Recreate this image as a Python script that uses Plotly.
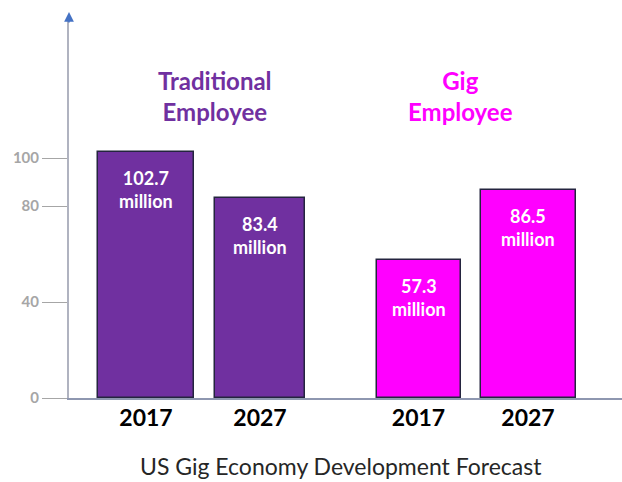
import plotly.graph_objects as go

# ---- data -------------------------------------------------------------
groups = ["Traditional Employee", "Traditional Employee", "Gig Employee", "Gig Employee"]
years = ["2017", "2027", "2017", "2027"]
employees_millions = [102.7, 83.4, 57.3, 86.5]

group_titles = ["Traditional<br>Employee", "Gig<br>Employee"]
y_tick_values = [0, 40, 80, 100]
y_tick_labels = ["0", "40", "80", "100"]
caption = "US Gig Economy Development Forecast"

# ---- layout constants ---------------------------------------------------
W, H = 622, 482
M_L, M_R, M_T, M_B = 69, 0, 20, 84
plot_w = W - M_L - M_R
plot_h = H - M_T - M_B
px_per_unit = 2.4
y_max = plot_h / px_per_unit

bar_centers = [77, 191, 349.5, 459]
bar_widths = [96, 90, 84, 95]
title_centers = [146, 391]

PURPLE = "#7030A0"
MAGENTA = "#FF00FF"
colors = {"Traditional Employee": PURPLE, "Gig Employee": MAGENTA}
FONT = "Lato"

fig = go.Figure()
fig.add_trace(go.Bar(
    x=bar_centers,
    y=employees_millions,
    width=bar_widths,
    marker=dict(color=[colors[g] for g in groups],
                line=dict(color="#24243f", width=1.5)),
    hoverinfo="skip",
    showlegend=False,
))

annotations = []
# value labels inside the top of each bar
for xc, v in zip(bar_centers, employees_millions):
    annotations.append(dict(
        x=xc, y=v, xref="x", yref="y",
        text=f"<b>{v}<br>million</b>",
        showarrow=False, yanchor="top", yshift=-13,
        font=dict(family=FONT, size=18, color="white"),
    ))

# group headings
for xc, t, c in zip(title_centers, group_titles, [PURPLE, MAGENTA]):
    annotations.append(dict(
        x=xc, y=(H - M_B - 64) / plot_h, xref="x", yref="paper",
        text=f"<b>{t}</b>", showarrow=False, yanchor="top",
        font=dict(family=FONT, size=24, color=c),
    ))

# arrow head on the vertical axis
annotations.append(dict(
    x=0, y=(H - M_B - 12) / plot_h, xref="paper", yref="paper",
    text="", showarrow=True, ax=0, ay=12,
    arrowhead=2, arrowsize=1.3, arrowwidth=1.5, arrowcolor="#4472C4",
))

# caption below the chart
annotations.append(dict(
    x=(341 - M_L) / plot_w, y=-(466 - (H - M_B)) / plot_h,
    xref="paper", yref="paper", text=caption, showarrow=False,
    yanchor="middle", font=dict(family=FONT, size=23, color="#262626"),
))

fig.update_layout(
    width=W, height=H,
    margin=dict(l=M_L, r=M_R, t=M_T, b=M_B, pad=0),
    paper_bgcolor="white", plot_bgcolor="white",
    annotations=annotations,
    bargap=0,
    xaxis=dict(
        range=[0, plot_w], tickvals=bar_centers, ticktext=years,
        showgrid=False, zeroline=False,
        showline=True, linecolor="#8E97B0", linewidth=1.5,
        ticks="", ticklabelstandoff=-1,
        tickfont=dict(family=FONT, size=23, color="black", weight="bold"),
        fixedrange=True,
    ),
    yaxis=dict(
        range=[0, y_max], tickvals=y_tick_values, ticktext=y_tick_labels,
        showgrid=False, zeroline=False,
        showline=True, linecolor="#B0B3C0", linewidth=2,
        ticks="outside", ticklen=25, tickcolor="#A6A6A6", tickwidth=1,
        tickfont=dict(family=FONT, size=15, color="#A6A6A6", weight="bold"),
        fixedrange=True,
    ),
)

fig.write_html("out.html", config={"displayModeBar": False})
